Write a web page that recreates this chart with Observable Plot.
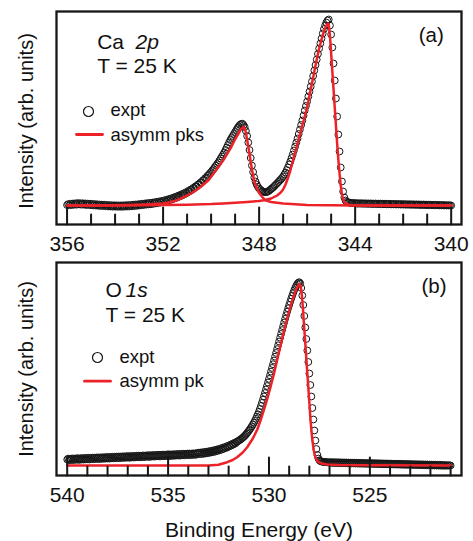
<!DOCTYPE html>
<html><head><meta charset="utf-8">
<script src="https://cdn.jsdelivr.net/npm/d3@7"></script>
<script src="https://cdn.jsdelivr.net/npm/@observablehq/plot@0.6"></script>
<style>
body{margin:0;background:#fff;}
#chart{width:473px;height:541px;}
#chart svg{display:block;}
</style></head><body><div id="chart"></div>
<script>
// ---------- Ca 2p (panel a) : measured intensity (arb. units) ----------
// 356.00 -> 349.70 eV, step 0.05
const caExptA = [0.5,1.4,0.3,1.8,0.5,2.0,0.8,2.2,0.8,2.4,
1.1,2.3,0.8,2.2,0.9,2.1,0.5,1.9,0.6,1.8,
0.3,1.6,0.1,1.4,-0.1,1.2,-0.2,1.0,-0.5,0.9,
-0.4,0.8,-0.7,0.6,-0.9,0.4,-1.0,0.3,-1.2,0.2,
-1.1,0.2,-1.3,0.1,-1.2,0.1,-1.3,0.2,-1.1,0.3,
-1.0,0.4,-1.0,0.5,-0.7,0.8,-0.5,1.0,-0.3,1.2,
0.0,1.5,0.3,1.8,0.6,2.1,0.9,2.4,1.1,2.6,
1.3,2.9,1.7,3.3,2.1,3.7,2.5,4.1,3.0,4.6,
3.5,5.2,4.1,5.8,4.8,6.5,5.5,7.3,6.3,8.1,
7.2,9.0,8.1,10.0,9.1,11.0,10.1,12.1,11.3,13.3,
12.6,14.6,14.1,16.0,15.6,17.6,17.3,19.2,19.0,21.0,
21.1,22.9,23.2,25.0,25.6,27.3,28.0,29.7,30.6,32.3,
33.4,35.1,36.4,38.2,39.8,41.4,43.0];
// 349.65 -> 344.00 eV, step 0.05
const caExptB = [45.0,47.0,49.0,51.0,53.0,55.5,58.0,60.5,63.0,65.5,
67.5,69.5,71.5,73.5,75.5,77.5,79.2,80.6,81.5,81.8,
80.5,78.5,74.5,69.5,63.0,55.5,47.5,40.0,33.5,28.0,
24.0,21.0,18.8,17.0,15.8,14.8,14.1,13.6,13.3,13.4,
13.8,14.5,15.5,16.5,17.5,18.5,19.7,21.0,22.2,23.5,
24.8,26.0,27.5,29.0,31.0,33.0,35.5,38.0,41.0,44.0,
47.5,51.0,55.0,59.0,63.0,67.0,71.5,76.0,80.5,85.0,
90.0,95.0,99.5,104.0,109.0,114.0,119.0,124.0,129.5,135.0,
140.5,146.0,151.5,157.0,162.0,167.0,172.0,176.5,180.0,183.0,
185.0,186.0,180.0,171.0,158.0,142.0,125.0,107.0,89.0,71.0,
54.0,38.0,24.0,14.0,8.0,5.0,3.8,3.2,2.9,2.7,
2.5,2.4,2.3,2.2];
// 343.95 -> 340.00 eV, step 0.05
const caExptC = [2.4,1.8,2.3,1.8,2.3,1.7,2.2,1.7,2.2,1.6,
2.1,1.6,2.1,1.5,2.0,1.5,2.0,1.4,1.9,1.4,
1.9,1.3,1.8,1.3,1.8,1.2,1.7,1.2,1.7,1.1,
1.6,1.1,1.6,1.0,1.5,1.0,1.5,0.9,1.4,0.9,
1.4,0.8,1.3,0.8,1.3,0.7,1.2,0.7,1.2,0.6,
1.1,0.6,1.1,0.5,1.0,0.5,1.0,0.4,0.9,0.4,
0.8,0.3,0.8,0.3,0.7,0.2,0.7,0.2,0.6,0.1,
0.5,0.1,0.5,0.0,0.4,0.0,0.3,0.0,0.2,0.0];
// asymmetric peak components [eV, intensity]
const caFitLow = [[356,0],[355,0.1],[354,0.3],[353,0.8],[352.5,1.3],[352,2],[351.7,3.2],[351.4,5.5],[351.1,8.8],[350.8,12.5],[350.45,18.3],[350.1,25.5],[349.75,36.7],[349.5,45],[349.33,51.7],[349.15,59],[348.99,66.7],[348.85,72.5],[348.75,76.5],[348.68,78],[348.64,78.3],[348.6,77],[348.57,74.5],[348.5,66],[348.43,56],[348.36,45],[348.29,35],[348.22,26],[348.11,18],[348.0,12.5],[347.87,8.5],[347.74,5.2],[347.5,3.5],[347,2],[346.5,1.2],[346,0.6],[345,0.2],[344,0],[340,0]];
const caFitHigh = [[356,0],[354,0.1],[352,0.4],[351,0.8],[350,1.4],[349.5,2],[349,2.7],[348.5,3.6],[348,4.6],[347.8,5.3],[347.5,7],[347.25,10],[347.1,13],[347,16],[346.9,21],[346.8,27.5],[346.7,35],[346.6,44],[346.5,53],[346.4,62],[346.3,71],[346.2,80],[346.1,89],[346,98],[345.9,110],[345.8,122],[345.7,134],[345.6,146],[345.5,157],[345.4,166],[345.3,174],[345.25,177.5],[345.2,180],[345.15,181.5],[345.12,182],[345.1,181],[345.05,170],[345,152],[344.95,134],[344.9,116],[344.85,98],[344.8,80],[344.75,62],[344.7,46],[344.65,32],[344.6,20],[344.55,11],[344.5,6],[344.45,3.5],[344.4,2],[344.3,1],[344.2,0.5],[344,0.2],[343,0],[340,0]];
const caMajorTicks = [356,352,348,344,340];
const caMinorTicks = [355,354,353,351,350,349,347,346,345,343,342,341];

// ---------- O 1s (panel b) ----------
// 540.00 -> 531.60 eV, step 0.05
const oExptA = [6.0,6.9,5.3,6.7,5.6,7.1,5.4,6.9,5.7,7.2,
5.8,7.3,5.6,7.1,6.0,7.5,5.9,7.4,6.1,7.6,
6.2,7.7,6.0,7.6,6.4,7.9,6.3,7.8,6.5,8.0,
6.6,8.1,6.4,8.0,6.8,8.3,6.7,8.2,6.9,8.5,
7.0,8.6,6.9,8.4,7.3,8.8,7.1,8.7,7.4,8.9,
7.4,9.0,7.3,8.9,7.7,9.2,7.6,9.1,7.8,9.4,
7.9,9.4,7.7,9.3,8.1,9.6,8.0,9.5,8.2,9.8,
8.3,9.9,8.2,9.7,8.5,10.1,8.4,9.9,8.7,10.2,
8.7,10.3,8.6,10.2,9.0,10.5,8.9,10.4,9.1,10.6,
9.2,10.7,9.0,10.6,9.4,10.9,9.3,10.8,9.5,11.1,
9.6,11.2,9.4,11.0,9.8,11.3,9.7,11.2,10.0,11.5,
10.0,11.6,9.9,11.5,10.3,11.8,10.1,11.6,10.4,11.9,
10.5,12.0,10.3,11.9,10.7,12.2,10.6,12.1,10.8,12.4,
12.8,11.3,13.0,11.5,13.2,11.7,13.5,12.0,13.8,12.3,
14.1,12.7,14.5,13.1,14.9,13.5,15.4,14.0,15.9,14.6,
16.4,15.2,17.0,15.8,17.7,16.6,18.4,17.4,19.2,18.2,
20.0,19.2,20.9,20.1,21.8,21.1,22.8,22.2,23.7];
// 531.55 -> 527.00 eV, step 0.05
const oExptB = [24.1,24.8,25.5,26.2,27.0,27.8,28.7,29.7,30.8,32.0,
33.3,34.7,36.1,37.6,39.2,40.9,42.7,44.6,46.7,48.9,
51.2,53.7,56.5,59.5,62.6,65.8,69.1,72.5,76.0,79.5,
83.0,86.6,90.2,93.9,97.6,101.3,105.0,108.8,112.6,116.4,
120.2,124.0,127.8,131.6,135.4,139.2,143.0,146.7,150.3,153.8,
157.2,160.5,163.7,166.8,169.8,172.6,175.2,177.6,179.7,181.4,
182.7,183.3,182.0,177.5,170.0,160.5,149.5,138.0,126.5,115.0,
103.5,92.0,80.5,69.0,57.5,46.0,35.0,25.0,16.5,10.5,
7.0,5.2,4.4,4.0,3.8,3.6,3.5,3.4,3.3,3.2,
3.1,3.0];
// 526.95 -> 521.00 eV, step 0.05
const oExptC = [3.4,2.6,3.3,2.5,3.3,2.5,3.2,2.4,3.2,2.4,
3.1,2.3,3.1,2.3,3.0,2.2,3.0,2.2,2.9,2.1,
2.9,2.1,2.8,2.0,2.8,2.0,2.7,1.9,2.7,1.9,
2.6,1.8,2.6,1.8,2.5,1.7,2.5,1.7,2.4,1.6,
2.4,1.6,2.3,1.5,2.3,1.5,2.2,1.4,2.2,1.4,
2.1,1.3,2.1,1.3,2.0,1.2,2.0,1.2,1.9,1.1,
1.9,1.1,1.8,1.0,1.8,1.0,1.7,0.9,1.7,0.9,
1.6,0.8,1.6,0.8,1.5,0.7,1.5,0.7,1.4,0.6,
1.4,0.6,1.3,0.5,1.3,0.5,1.2,0.4,1.2,0.4,
1.1,0.3,1.1,0.3,1.0,0.2,1.0,0.2,0.9,0.1,
0.9,0.1,0.8,0.0,0.8,0.0,0.7,-0.1,0.7,-0.1,
0.6,-0.2,0.5,-0.2,0.4,-0.2,0.3,-0.1,0.2,0.0];
const oFit = [[540,0],[533,0],[532.5,0.8],[532.07,3.3],[531.8,5.5],[531.58,8.3],[531.3,13],[531.08,18.3],[530.8,27],[530.58,36],[530.4,46],[530.26,55],[530.1,65.5],[529.93,78],[529.75,92],[529.59,106],[529.43,120],[529.25,135],[529.1,147],[528.95,158],[528.8,168],[528.65,176],[528.55,180],[528.47,181.7],[528.42,178],[528.37,170],[528.32,158],[528.28,145],[528.2,122],[528.11,95],[528.02,69],[527.94,45],[527.86,27],[527.78,15],[527.7,8],[527.6,4.5],[527.53,3.3],[527.4,2],[527.12,1],[526.5,0.5],[525,0.2],[521,0]];
const oMajorTicks = [540,535,530,525];
const oMinorTicks = [539,538,537,536,534,533,532,531,529,528,527,526,524,523,522,521];

// ---------- helpers ----------
function grid(start, step, values) {
  return values.map((v, i) => ({E: +(start - i * step).toFixed(2), I: v}));
}
const caData = [...grid(356.0, 0.05, caExptA), ...grid(349.65, 0.05, caExptB), ...grid(343.95, 0.05, caExptC)];
const oData = [...grid(540.0, 0.05, oExptA), ...grid(531.55, 0.05, oExptB), ...grid(526.95, 0.05, oExptC)];

const RED = "#ec2228";
const INK = "#161616";
const FONT = "'Liberation Sans', Arial, Helvetica, sans-serif";
const segShape = {draw(ctx, l) { ctx.moveTo(0, 0); ctx.lineTo(0, -l); }};

function tickMarks(ticks, len) {
  return Plot.vector(ticks, {x: d => d, frameAnchor: "bottom", anchor: "start", length: len,
    shape: segShape, stroke: INK, strokeWidth: 2});
}
function txt(s, o) {
  return Plot.text([s], {text: d => d, textAnchor: "start", lineAnchor: "bottom", fill: "#111", ...o});
}

// ---------- panel (a) ----------
const plotA = Plot.plot({
  width: 473, height: 258,
  marginLeft: 56, marginRight: 12, marginTop: 11, marginBottom: 34,
  style: {fontFamily: FONT, background: "#fff"},
  x: {domain: [356.44, 339.57], axis: null},
  y: {domain: [-19, 194], axis: null},
  marks: [
    Plot.dot(caData, {x: "E", y: "I", r: 3.4, stroke: INK, strokeWidth: 1, fill: "none"}),
    Plot.line(caFitLow, {x: d => d[0], y: d => d[1], stroke: RED, strokeWidth: 2.5}),
    Plot.line(caFitHigh, {x: d => d[0], y: d => d[1], stroke: RED, strokeWidth: 2.5}),
    Plot.frame({stroke: INK, strokeWidth: 2.3}),
    tickMarks(caMajorTicks, 17),
    tickMarks(caMinorTicks, 10),
    Plot.text(caMajorTicks, {x: d => d, text: d => String(d), frameAnchor: "bottom", dy: 26, lineAnchor: "bottom", fontSize: 21, fill: "#111"}),
    txt("Intensity (arb. units)", {frameAnchor: "left", rotate: -90, textAnchor: "middle", lineAnchor: "middle", dx: -30, dy: 3, fontSize: 20}),
    txt("Ca", {frameAnchor: "top-left", dx: 40.7, dy: 37.3, fontSize: 21}),
    txt("2p", {frameAnchor: "top-left", dx: 79, dy: 37.3, fontSize: 21, fontStyle: "italic"}),
    txt("T = 25 K", {frameAnchor: "top-left", dx: 40.7, dy: 61.3, fontSize: 21}),
    Plot.dot([0], {frameAnchor: "top-left", dx: 32, dy: 100, r: 5, stroke: INK, strokeWidth: 1.2, fill: "none"}),
    txt("expt", {frameAnchor: "top-left", dx: 54, dy: 104.7, fontSize: 18.5}),
    Plot.vector([0], {frameAnchor: "top-left", dx: 20, dy: 123, anchor: "start", rotate: 90, length: 26, shape: segShape, stroke: RED, strokeWidth: 2.8}),
    txt("asymm pks", {frameAnchor: "top-left", dx: 54, dy: 129, fontSize: 18.5}),
    txt("(a)", {frameAnchor: "top-right", textAnchor: "end", dx: -17.7, dy: 30, fontSize: 20.5})
  ]
});

// ---------- panel (b) ----------
const plotB = Plot.plot({
  width: 473, height: 283,
  marginLeft: 56, marginRight: 12, marginTop: 4, marginBottom: 66,
  style: {fontFamily: FONT, background: "#fff"},
  x: {domain: [540.53, 520.46], axis: null},
  y: {domain: [-10, 203], axis: null},
  marks: [
    Plot.dot(oData, {x: "E", y: "I", r: 3.4, stroke: INK, strokeWidth: 1, fill: "none"}),
    Plot.line(oFit, {x: d => d[0], y: d => d[1], stroke: RED, strokeWidth: 2.5}),
    Plot.frame({stroke: INK, strokeWidth: 2.3}),
    tickMarks(oMajorTicks, 18),
    tickMarks(oMinorTicks, 9),
    Plot.text(oMajorTicks, {x: d => d, text: d => String(d), frameAnchor: "bottom", dy: 26.7, lineAnchor: "bottom", fontSize: 21, fill: "#111"}),
    txt("Binding Energy (eV)", {frameAnchor: "bottom", textAnchor: "middle", dy: 61, fontSize: 21}),
    txt("Intensity (arb. units)", {frameAnchor: "left", rotate: -90, textAnchor: "middle", lineAnchor: "middle", dx: -30, dy: 0, fontSize: 20}),
    txt("O", {frameAnchor: "top-left", dx: 49, dy: 34.7, fontSize: 21}),
    txt("1s", {frameAnchor: "top-left", dx: 69, dy: 34.7, fontSize: 21, fontStyle: "italic"}),
    txt("T = 25 K", {frameAnchor: "top-left", dx: 49, dy: 59, fontSize: 21}),
    Plot.dot([0], {frameAnchor: "top-left", dx: 41, dy: 95, r: 5, stroke: INK, strokeWidth: 1.2, fill: "none"}),
    txt("expt", {frameAnchor: "top-left", dx: 63, dy: 100.3, fontSize: 18.5}),
    Plot.vector([0], {frameAnchor: "top-left", dx: 28, dy: 118.7, anchor: "start", rotate: 90, length: 26, shape: segShape, stroke: RED, strokeWidth: 2.8}),
    txt("asymm pk", {frameAnchor: "top-left", dx: 63, dy: 124.7, fontSize: 18.5}),
    txt("(b)", {frameAnchor: "top-right", textAnchor: "end", dx: -15, dy: 30.3, fontSize: 20.5})
  ]
});

const root = document.getElementById("chart");
root.append(plotA, plotB);
</script></body></html>
